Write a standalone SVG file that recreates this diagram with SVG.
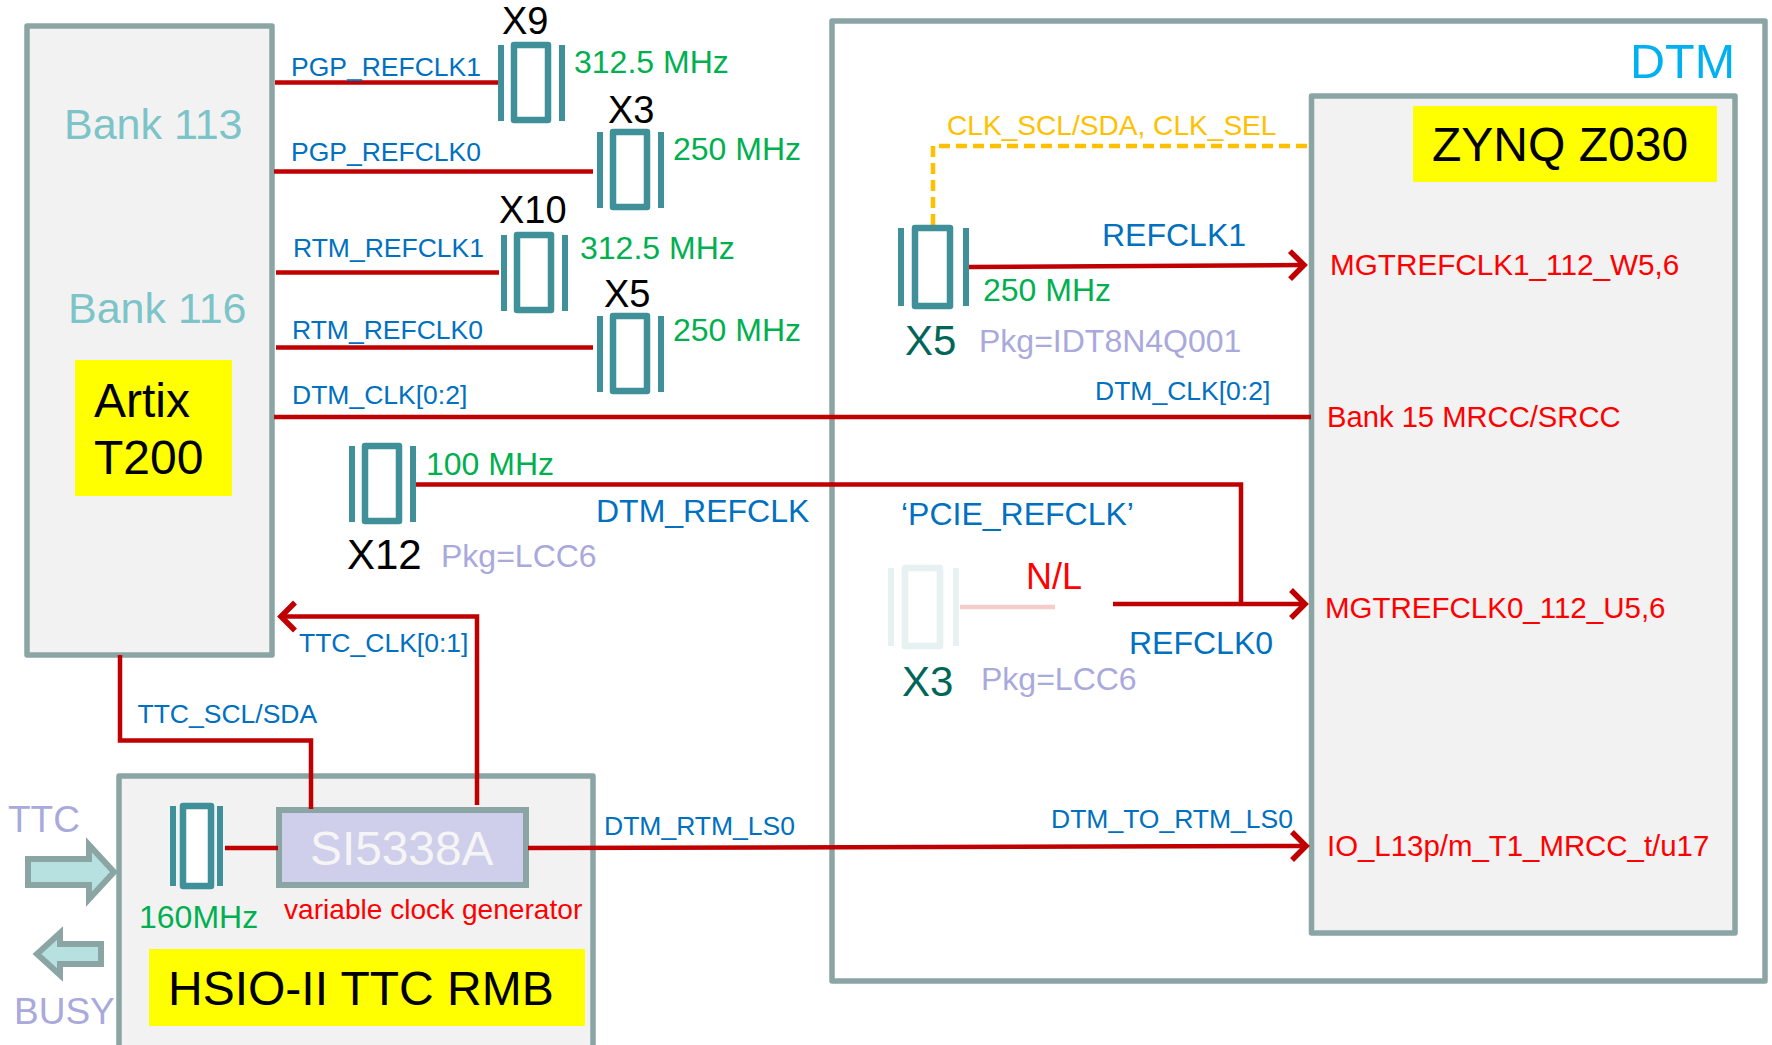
<svg xmlns="http://www.w3.org/2000/svg" xmlns:xlink="http://www.w3.org/1999/xlink" width="1772" height="1045" viewBox="0 0 1772 1045">
<style>
text{font-family:"Liberation Sans",Arial,sans-serif}
.box{fill:#F2F2F2;stroke:#8BA5A5;stroke-width:5.5;stroke-linejoin:round}
.yel{fill:#FFFF00}
.w{fill:none;stroke:#C00000;stroke-width:4.500;stroke-linejoin:miter}
.d{fill:none;stroke:#FFC000;stroke-width:4.500;stroke-dasharray:11 6}
.bar{fill:#3F9098}
.body{fill:#fff;stroke:#3F9098;stroke-width:6.500;stroke-linejoin:round}
.sig{fill:#0070C0;font-size:26.5px}
.sigb{fill:#0070C0;font-size:32px}
.grn{fill:#00B050;font-size:32px}
.pin{fill:#FF0000;font-size:29.5px}
.pkg{fill:#A9A9DC;font-size:32px}
.ref{fill:#000;font-size:38px}
.tl{fill:#006658;font-size:42px}
.bank{fill:#7CC4C8;font-size:43px}
.big{fill:#000;font-size:48px}
.lab{fill:#A9A9DC;font-size:37px}
.blockarrow{fill:#B7E0E0;stroke:#8BA5A5;stroke-width:6;stroke-linejoin:miter}
</style>
<defs>
<marker id="ah" markerUnits="userSpaceOnUse" markerWidth="40" markerHeight="40" refX="30" refY="20" orient="auto" overflow="visible">
<path d="M16,6 L30,20 L16,34" fill="none" stroke="#C00000" stroke-width="5.500"/>
</marker>
<g id="xtal">
<rect class="bar" x="0" y="3" width="6" height="76"/>
<rect class="bar" x="61" y="3" width="6" height="76"/>
<rect class="body" x="16" y="3" width="34" height="75"/>
</g>
<g id="xtal2">
<rect class="bar" x="0" y="3" width="6" height="78"/>
<rect class="bar" x="65" y="3" width="6" height="78"/>
<rect class="body" x="17" y="3" width="35" height="78"/>
</g>
</defs>
<rect width="1772" height="1045" fill="#fff"/>

<g id="dtm">
<rect x="832" y="21" width="933" height="960" fill="#fff" stroke="#8BA5A5" stroke-width="5.500" stroke-linejoin="round"/>
<text x="1630" y="78" font-size="48.500" fill="#00B0F0">DTM</text>
</g>
<g id="artix">
<rect class="box" x="27" y="26" width="245" height="629"/>
<text class="bank" x="64" y="139">Bank 113</text>
<text class="bank" x="68" y="323">Bank 116</text>
<rect class="yel" x="75" y="360" width="157" height="136"/>
<text class="big" x="94" y="417">Artix</text>
<text class="big" x="94" y="474">T200</text>
</g>
<g id="zynq">
<rect class="box" x="1311.500" y="96" width="423.500" height="837"/>
<rect class="yel" x="1413" y="106" width="304" height="76"/>
<text x="1432" y="161" font-size="48" fill="#000">ZYNQ Z030</text>
<text class="pin" x="1330" y="275" style="font-size:29.700px">MGTREFCLK1_112_W5,6</text>
<text class="pin" x="1327" y="427" style="font-size:29.200px">Bank 15 MRCC/SRCC</text>
<text class="pin" x="1325" y="618">MGTREFCLK0_112_U5,6</text>
<text class="pin" x="1327" y="856" style="font-size:29.400px">IO_L13p/m_T1_MRCC_t/u17</text>
</g>
<g id="hsio">
<rect class="box" x="119" y="776" width="474" height="280"/>
<rect class="yel" x="149" y="949" width="436" height="77"/>
<text class="big" x="168" y="1005">HSIO-II TTC RMB</text>
<text x="284" y="919" font-size="28.100" fill="#FF0000">variable clock generator</text>
<text class="grn" x="139" y="928">160MHz</text>
</g>
<g id="si5338a">
<rect x="279" y="810" width="247" height="75" fill="#CFCFEC" stroke="#8BA5A5" stroke-width="6"/>
<text x="310" y="865" font-size="47.800" fill="#F5F5F5">SI5338A</text>
</g>

<g id="connectors">
<path class="w" d="M275,82.500H499"/>
<path class="w" d="M274,171.500H593"/>
<path class="w" d="M276,272.500H499"/>
<path class="w" d="M276,347.500H593"/>
<path class="w" d="M274,417H1311"/>
<path class="w" d="M415,484.500H1241V604"/>
<path class="w" d="M1113,604H1305" marker-end="url(#ah)"/>
<path d="M960,607H1055" fill="none" stroke="#F5CCCC" stroke-width="4.500"/>
<path class="w" d="M969,267L1304,265" marker-end="url(#ah)"/>
<path class="d" d="M933,225V146H1311"/>
<path class="w" d="M528,848L1306,846" marker-end="url(#ah)"/>
<path class="w" d="M225,848H278"/>
<path class="w" d="M120,655V740.500H311V809"/>
<path class="w" d="M477,805V616.500H281" marker-end="url(#ah)"/>
</g>

<g id="x9"><use xlink:href="#xtal" x="498" y="42"/><text class="ref" x="502" y="34">X9</text><text class="grn" x="574" y="73">312.5 MHz</text></g>
<g id="x3"><use xlink:href="#xtal" x="597" y="129"/><text class="ref" x="608" y="123">X3</text><text class="grn" x="673" y="160">250 MHz</text></g>
<g id="x10"><use xlink:href="#xtal" x="501" y="232"/><text class="ref" x="499" y="223">X10</text><text class="grn" x="580" y="259">312.5 MHz</text></g>
<g id="x5"><use xlink:href="#xtal" x="597" y="313"/><text class="ref" x="604" y="307">X5</text><text class="grn" x="673" y="341">250 MHz</text></g>
<g id="x12"><use xlink:href="#xtal" x="349" y="443"/><text class="grn" x="426" y="475">100 MHz</text><text x="347" y="569" font-size="42" fill="#000">X12</text><text class="pkg" x="441" y="567">Pkg=LCC6</text></g>
<g id="dtm-x5"><use xlink:href="#xtal2" x="898" y="225"/><text class="tl" x="905" y="355">X5</text><text class="grn" x="983" y="301">250 MHz</text><text class="pkg" x="979" y="352">Pkg=IDT8N4Q001</text></g>
<g id="dtm-x3"><use xlink:href="#xtal2" x="888" y="565" opacity="0.12"/><text class="tl" x="902" y="696">X3</text><text class="pkg" x="981" y="690">Pkg=LCC6</text></g>
<g id="x160">
<rect class="bar" x="170" y="806" width="6" height="80"/>
<rect class="bar" x="217" y="806" width="6" height="80"/>
<rect class="body" x="183" y="806" width="28" height="80"/>
</g>

<g id="labels">
<text class="sig" x="291" y="76">PGP_REFCLK1</text>
<text class="sig" x="291" y="161">PGP_REFCLK0</text>
<text class="sig" x="293" y="257">RTM_REFCLK1</text>
<text class="sig" x="292" y="339">RTM_REFCLK0</text>
<text class="sig" x="292" y="404">DTM_CLK[0:2]</text>
<text class="sigb" x="596" y="522">DTM_REFCLK</text>
<text class="sig" x="299" y="652">TTC_CLK[0:1]</text>
<text class="sig" x="137.500" y="723">TTC_SCL/SDA</text>
<text class="sig" x="604" y="835">DTM_RTM_LS0</text>
<text x="947" y="135" font-size="28.100" fill="#FFC000">CLK_SCL/SDA, CLK_SEL</text>
<text class="sigb" x="1102" y="246">REFCLK1</text>
<text class="sig" x="1095" y="400">DTM_CLK[0:2]</text>
<text class="sigb" x="901" y="525">‘PCIE_REFCLK’</text>
<text x="1026" y="589" font-size="36" fill="#FF0000">N/L</text>
<text class="sigb" x="1129" y="654">REFCLK0</text>
<text class="sig" x="1051" y="828">DTM_TO_RTM_LS0</text>
</g>

<g id="ttc">
<path class="blockarrow" d="M28,859H89V845L114,872L89,899V885H28Z"/>
<text class="lab" x="8" y="832">TTC</text>
</g>
<g id="busy">
<path class="blockarrow" d="M101,944H60V933L37,954L60,975V964H101Z"/>
<text class="lab" x="14" y="1024">BUSY</text>
</g>
</svg>
